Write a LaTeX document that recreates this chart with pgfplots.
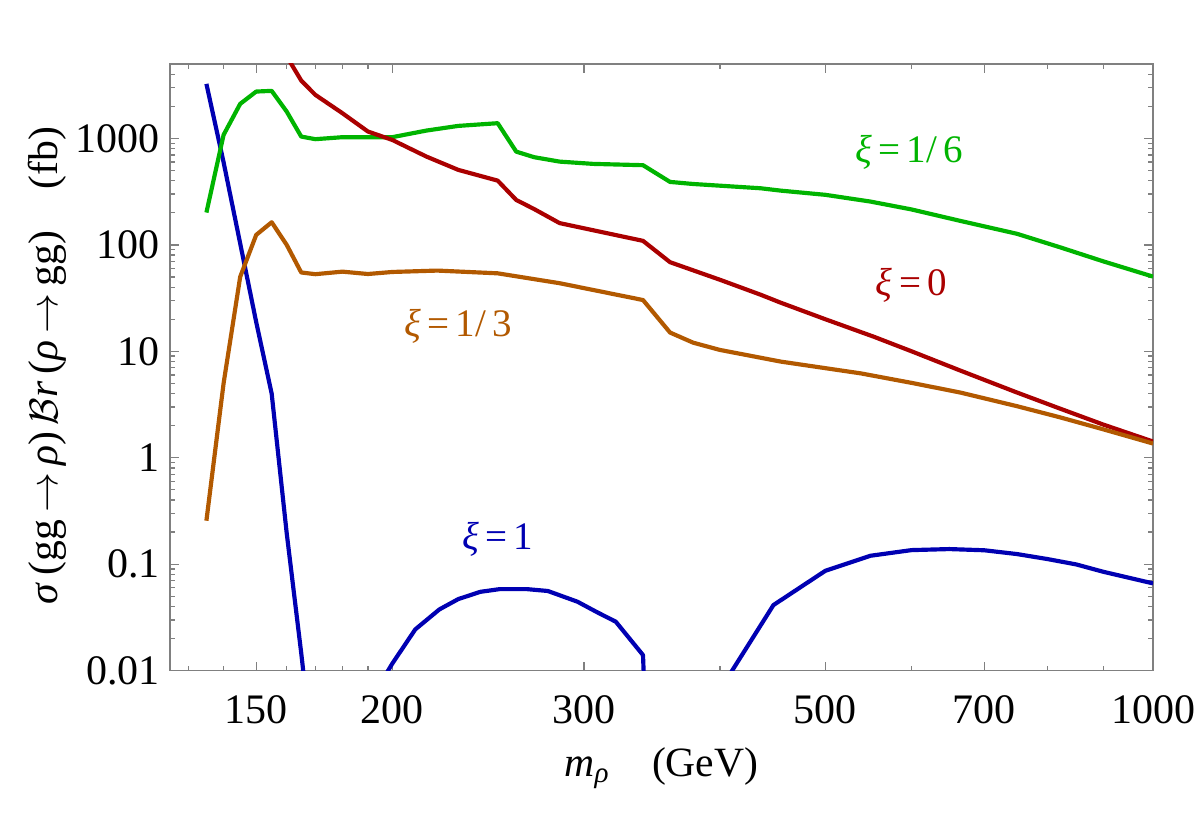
\documentclass[border=0pt]{standalone}
\usepackage{pgfplots}
\pgfplotsset{compat=1.18}
\usepackage{fontspec}
\setmainfont{Liberation Serif}
\definecolor{cblue}{RGB}{0,0,178}
\definecolor{cred}{RGB}{170,0,0}
\definecolor{cgreen}{RGB}{0,180,0}
\definecolor{corange}{RGB}{178,89,0}
\definecolor{cframe}{RGB}{128,128,128}
\begin{document}
\begin{tikzpicture}
\begin{axis}[name=ax,
  xmode=log, ymode=log, scale only axis, width=294.9pt, height=182pt,
  xmin=125, xmax=1000, ymin=0.01, ymax=5000,
  axis line style={cframe, line width=0.4pt},
  tick style={cframe, line width=0.4pt},
  major tick length=2.6pt, minor tick length=1.4pt,
  tick align=inside,
  xtick={150,200,300,500,700,1000}, xticklabels={150,200,300,500,700,1000},
  minor xtick={130,140,160,170,180,190,400,600,800,900},
  ytick={0.01,0.1,1,10,100,1000}, yticklabels={0.01,0.1,1,10,100,1000},
  minor ytick={0.02,0.03,0.04,0.05,0.06,0.07,0.08,0.09,0.2,0.3,0.4,0.5,0.6,0.7,0.8,0.9,2,3,4,5,6,7,8,9,20,30,40,50,60,70,80,90,200,300,400,500,600,700,800,900,2000,3000,4000,5000},
  ticklabel style={font=\fontsize{12.6}{14}\selectfont},
  xticklabel style={yshift=-4pt},
  yticklabel style={xshift=0.5pt},
  xlabel={\textit{m}\textsubscript{\textit{ρ}}\quad(GeV)},
  xlabel style={at={(axis description cs:0.5,-0.16)}, anchor=center, font=\fontsize{12.5}{14}\selectfont},
  ylabel={\textit{σ}\,(gg\,$\rightarrow$\,\textit{ρ})\,$\mathcal{B}$\textit{r}\,(\textit{ρ}\,$\rightarrow$\,gg)\quad(fb)},
  ylabel style={at={(axis description cs:-0.125,0.503)}, anchor=center, rotate=0, font=\fontsize{12.5}{14}\selectfont},
  every axis plot/.append style={line width=1.25pt, line join=round},
]
% xi = 1 (blue), three pieces
\addplot[cblue] coordinates {(135,3253) (140,597) (145,103) (150,18.8) (155,4.0) (160,0.196) (165,0.0146) (170,0.001)};
\addplot[cblue] coordinates {(190,0.0048) (200,0.0116) (210,0.0244) (221,0.0376) (230,0.047) (241,0.055) (251,0.0583) (266,0.0583) (278,0.056) (296,0.0444) (308,0.0357) (321,0.0288) (340,0.014) (345,0.0003)};
\addplot[cblue] coordinates {(400,0.003) (410,0.0098) (448,0.0413) (500,0.0867) (550,0.12) (600,0.1356) (650,0.1387) (700,0.1351) (750,0.1245) (800,0.1117) (850,0.0995) (900,0.0849) (1000,0.066)};
% xi = 1/6 (green)
\addplot[cgreen] coordinates {(135,201) (140,1079) (145,2110) (150,2754) (155,2795) (160,1786) (165,1040) (170,983) (180,1026) (190,1026) (200,1026) (215,1184) (230,1310) (250,1389) (260,751) (270,666) (285,605) (306,576) (340,560) (360,390) (378,373) (436,340) (455,323) (500,295) (550,255) (600,215) (665,168) (750,127) (821,95) (900,70) (1000,50.3)};
% xi = 0 (red)
\addplot[cred] coordinates {(160,5900) (165,3493) (170,2564) (180,1725) (190,1160) (200,968) (215,675) (230,506) (250,401) (260,264) (270,217) (285,160) (340,109) (360,68.7) (400,47) (436,34) (455,28.6) (500,20) (554,13.7) (600,10) (665,6.6) (750,4.1) (821,2.9) (900,2.05) (1000,1.42)};
% xi = 1/3 (orange)
\addplot[corange] coordinates {(135,0.256) (140,5.0) (145,50) (150,124) (155,163) (160,100) (165,55) (170,53) (180,56) (190,53.2) (200,55.6) (220,57.3) (250,54) (285,43.6) (340,30.3) (360,15) (378,12.05) (400,10.3) (455,8) (539,6.2) (600,5.05) (665,4.1) (750,3.05) (821,2.4) (900,1.85) (1000,1.36)};
\node[cgreen, font=\fontsize{11.7}{13}\selectfont] at (axis cs:597,740) {\textit{ξ}\,=\,1/\,6};
\node[cred, font=\fontsize{11.7}{13}\selectfont] at (axis cs:600,42) {\textit{ξ}\,=\,0};
\node[corange, font=\fontsize{11.7}{13}\selectfont] at (axis cs:230,17) {\textit{ξ}\,=\,1/\,3};
\node[cblue, font=\fontsize{11.7}{13}\selectfont] at (axis cs:250,0.172) {\textit{ξ}\,=\,1};
\end{axis}
\pgfresetboundingbox
\path[use as bounding box] ([xshift=-51pt,yshift=-43.35pt]ax.south west) rectangle ([xshift=14.1pt,yshift=19.2pt]ax.north east);
\end{tikzpicture}
\end{document}
